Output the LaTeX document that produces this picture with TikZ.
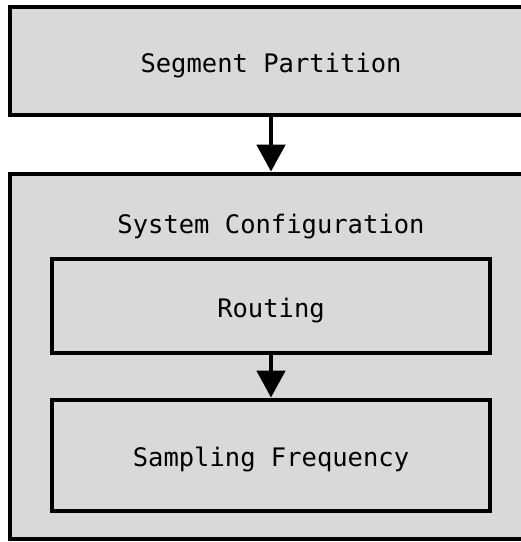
\documentclass[tikz,border=0pt]{standalone}
\usepackage{fontspec}
\newfontfamily\boxfont{DejaVu Sans Mono}
\usetikzlibrary{arrows.meta}
\definecolor{boxfill}{RGB}{217,217,217}
\tikzset{
  labelfont/.style={font=\boxfont\fontsize{25.5}{30}\selectfont, text depth=0pt},
  stagebox/.style={draw=black, fill=boxfill, line width=4.8pt, rectangle,
    inner sep=0pt},
  flowarrow/.style={line width=4.8pt, -{Triangle[length=27pt,width=28pt]}},
  caption/.style={inner sep=0pt, labelfont}
}
\begin{document}
\begin{tikzpicture}[x=1pt,y=-1pt]
  \useasboundingbox (0,0) rectangle (521,542);
  \clip (0,0) rectangle (521,542);
  \fill[white] (0,0) rectangle (521,542);
  % top stage
  \node[stagebox, minimum width=522pt, minimum height=108pt] (seg) at (271,61) {};
  \node[caption] (segtext) at (271,62.5) {Segment Partition};
  % configuration container
  \node[stagebox, minimum width=522pt, minimum height=365pt] (sys) at (271,356.5) {};
  \node[caption] (systitle) at (271,223.5) {System Configuration};
  % inner stages
  \node[stagebox, minimum width=438pt, minimum height=94pt] (route) at (271,306) {};
  \node[caption] (routetext) at (271,307.5) {Routing};
  \node[stagebox, minimum width=438pt, minimum height=111pt] (samp) at (271,455.5) {};
  \node[caption] (samptext) at (271,457) {Sampling Frequency};
  % connectors
  \draw[flowarrow] (seg.south) -- (sys.north);
  \draw[flowarrow] (route.south) -- (samp.north);
\end{tikzpicture}
\end{document}
